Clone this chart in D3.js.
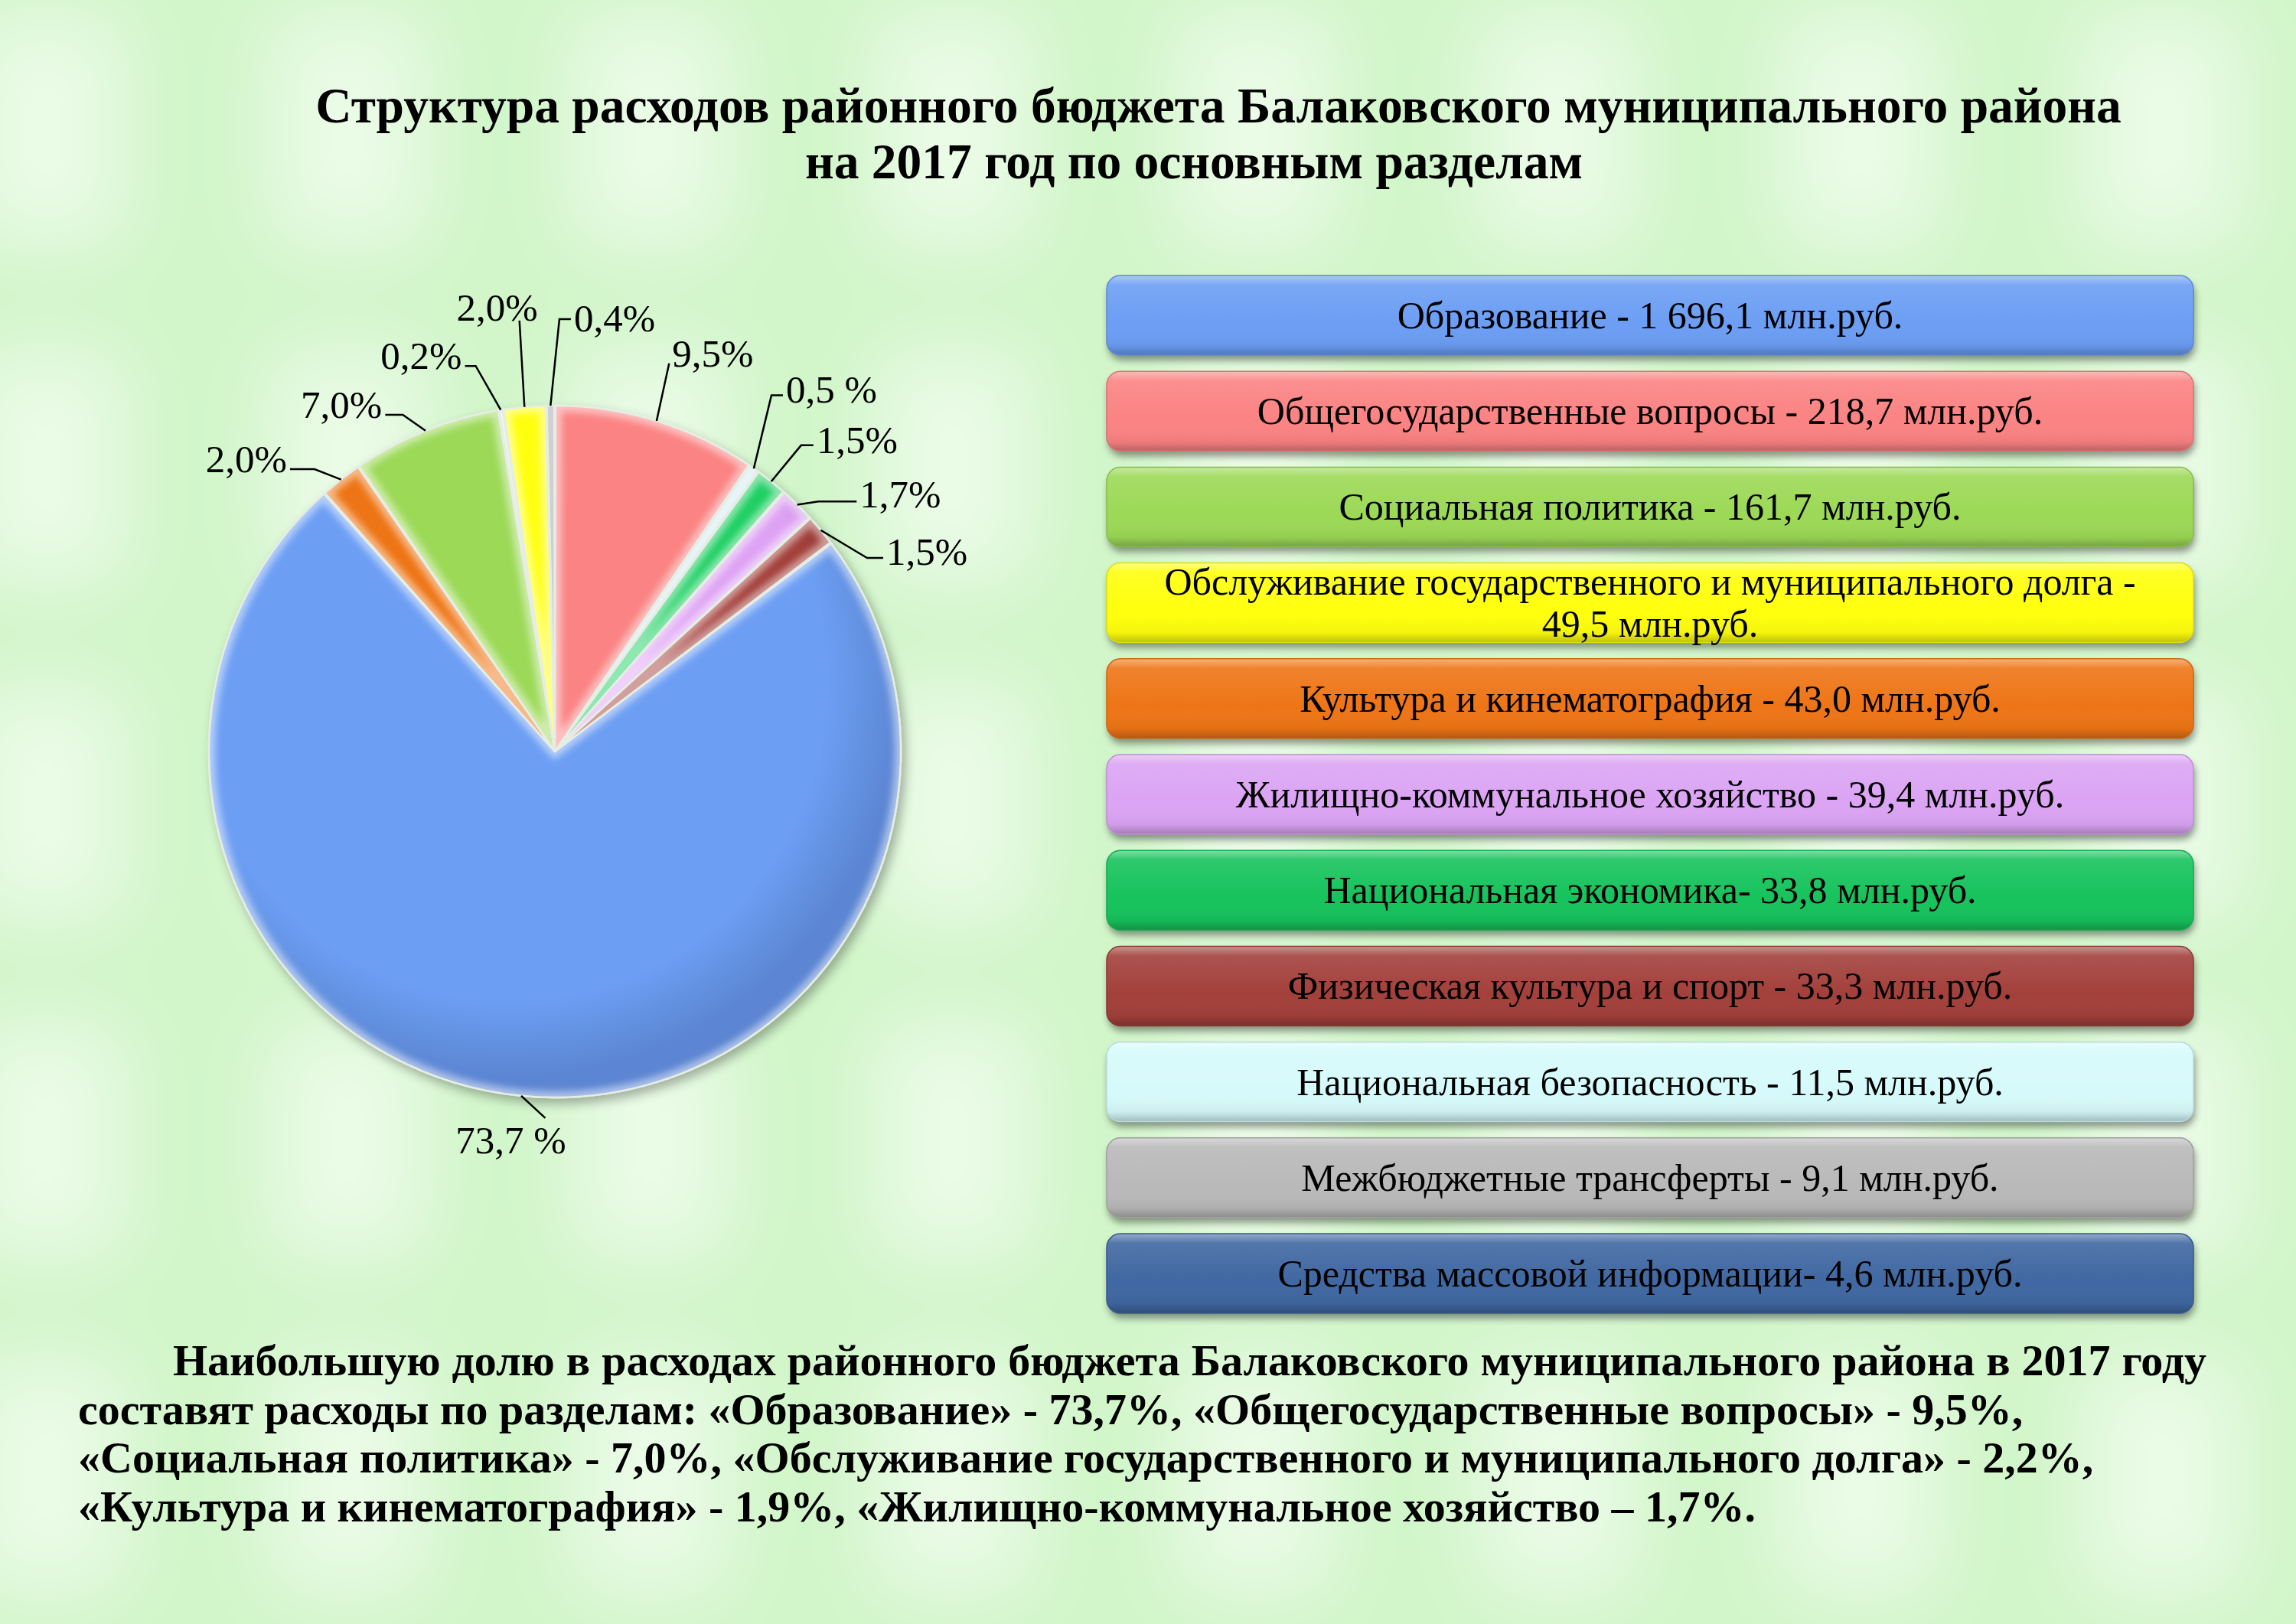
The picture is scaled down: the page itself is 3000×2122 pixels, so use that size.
<!DOCTYPE html>
<html>
<head>
<meta charset="utf-8">
<script src="https://cdnjs.cloudflare.com/ajax/libs/d3/7.8.5/d3.min.js"></script>
<style>
  html, body { margin: 0; padding: 0; background: #d4f7ce; }
  svg { display: block; }
</style>
</head>
<body>
<div id="chart"></div>
<script>
// Разделы бюджета (порядок как в легенде)
const categories = [
    'Образование',
    'Общегосударственные вопросы',
    'Социальная политика',
    'Обслуживание государственного и муниципального долга',
    'Культура и кинематография',
    'Жилищно-коммунальное хозяйство',
    'Национальная экономика',
    'Физическая культура и спорт',
    'Национальная безопасность',
    'Межбюджетные трансферты',
    'Средства массовой информации'
];
// млн.руб.
const amounts = [1696.1, 218.7, 161.7, 49.5, 43.0, 39.4, 33.8, 33.3, 11.5, 9.1, 4.6];
const separators = [' - ', ' - ', ' - ', ' - ', ' - ', ' - ', '- ', ' - ', ' - ', ' - ', '- '];
const boxColors = ['#6c9ef4', '#fb8383', '#9cd957', '#ffff10', '#ee7414', '#dba4f4',
    '#17c35c', '#a33f3a', '#d6fafb', '#b9b9b9', '#3f68a2'];

// Секторы диаграммы по часовой стрелке от 12 часов
const pieCategory = [1, 8, 6, 5, 7, 0, 4, 2, 10, 3, 9];
const pieShares = [9.5, 0.5, 1.5, 1.7, 1.5, 73.7, 2.0, 7.0, 0.2, 2.0, 0.4];
const pieLabels = ['9,5%', '0,5 %', '1,5%', '1,7%', '1,5%', '73,7 %', '2,0%', '7,0%', '0,2%', '2,0%', '0,4%'];
const pieColors = ['#fb8383', '#cfe9f0', '#1ecf62', '#dea2f4', '#a33f3a', '#6c9ef4',
    '#ee7414', '#9cd957', '#eef6ea', '#ffff10', '#a0a0a8'];

const titleLines = [
    'Структура расходов районного бюджета Балаковского муниципального района',
    'на 2017 год по основным разделам'
];
const noteLines = [
    'Наибольшую долю в расходах районного бюджета Балаковского муниципального района в 2017 году',
    'составят расходы по разделам: «Образование» - 73,7%, «Общегосударственные вопросы» - 9,5%,',
    '«Социальная политика» - 7,0%, «Обслуживание государственного и муниципального долга» - 2,2%,',
    '«Культура и кинематография» - 1,9%, «Жилищно-коммунальное хозяйство – 1,7%.'
];

// label leader layout: angle (deg), radius factor, side, tail length, text baseline shift
const labelLayout = [
    { a: 16.4, k: 1.17, side: 'right', tail: 0, dy: 4 },
    { a: 31.3, k: 1.205, side: 'right', tail: 15, dy: 9 },
    { a: 38.8, k: 1.136, side: 'right', tail: 16, dy: 10 },
    { a: 46.5, k: 1.05, side: 'right', tail: 50, dy: 8 },
    { a: 58.2, k: 1.062, side: 'right', tail: 21, dy: 9 },
    { a: 181.5, k: 1.06, side: 'bottom', tail: 0, dy: 46 },
    { a: 319.6, k: 1.072, side: 'left', tail: 32, dy: 4 },
    { a: 335.7, k: 1.068, side: 'left', tail: 23, dy: 4 },
    { a: 348.4, k: 1.138, side: 'left', tail: 14, dy: 4 },
    { a: 355.3, k: 1.25, side: 'top', tail: 0, dy: 0 },
    { a: 0.6, k: 1.25, side: 'right', tail: 15, dy: 16 }
];

const W = 3000, H = 2122;
const ruLocale = d3.formatLocale({ decimal: ',', thousands: ' ', grouping: [3], currency: ['', ''] });
const fmt = ruLocale.format(',.1f');

const svg = d3.select('#chart')
    .append('svg')
    .attr('width', W)
    .attr('height', H);

const defs = svg.append('defs');

// ---------- background ----------
const bgBlur = defs.append('filter').attr('id', 'bgBlur')
    .attr('x', '-50%').attr('y', '-50%').attr('width', '200%').attr('height', '200%');
bgBlur.append('feGaussianBlur').attr('stdDeviation', 50);

svg.append('rect').attr('width', W).attr('height', H).attr('fill', '#d2f6ca');
const bg = svg.append('g').attr('filter', 'url(#bgBlur)');
for (let i = 0; i < 9; i++) {
    for (let j = 0; j < 6; j++) {
        bg.append('rect')
            .attr('x', -40 + i * 395)
            .attr('y', 20 + j * 440)
            .attr('width', 200)
            .attr('height', 300)
            .attr('fill', '#ffffff')
            .attr('opacity', 0.55);
    }
}

// ---------- title ----------
const title = svg.append('g')
    .style('font-family', '"Liberation Serif", "Times New Roman", serif')
    .style('font-weight', 'bold')
    .style('font-size', '65.5px');
title.append('text').attr('x', 1592).attr('y', 160).attr('text-anchor', 'middle').text(titleLines[0]);
title.append('text').attr('x', 1560).attr('y', 233).attr('text-anchor', 'middle').text(titleLines[1]);

// ---------- pie ----------
const cx = 725, cy = 982, r = 452;
const pieData = pieShares.map((s, i) => ({ share: s, label: pieLabels[i], color: pieColors[i], cat: pieCategory[i] }));
const pie = d3.pie().sort(null).value(d => d.share);
const arcs = pie(pieData);
const arc = d3.arc().innerRadius(0).outerRadius(r).padAngle(0.004);

const shadow = defs.append('filter').attr('id', 'pieShadow')
    .attr('x', '-20%').attr('y', '-20%').attr('width', '140%').attr('height', '140%');
shadow.append('feDropShadow').attr('dx', 5).attr('dy', 7).attr('stdDeviation', 7)
    .attr('flood-color', '#000').attr('flood-opacity', 0.3);

const bevelBlur = defs.append('filter').attr('id', 'bevelBlur')
    .attr('x', '-20%').attr('y', '-20%').attr('width', '140%').attr('height', '140%');
bevelBlur.append('feGaussianBlur').attr('stdDeviation', 5);

const shade = defs.append('radialGradient').attr('id', 'pieShade')
    .attr('gradientUnits', 'userSpaceOnUse')
    .attr('cx', -60).attr('cy', -90).attr('r', r * 1.15);
shade.append('stop').attr('offset', '0%').attr('stop-color', '#000').attr('stop-opacity', 0);
shade.append('stop').attr('offset', '80%').attr('stop-color', '#000').attr('stop-opacity', 0);
shade.append('stop').attr('offset', '100%').attr('stop-color', '#002').attr('stop-opacity', 0.16);

const pieG = svg.append('g')
    .attr('transform', 'translate(' + cx + ',' + cy + ')')
    .attr('filter', 'url(#pieShadow)');

arcs.forEach((d, i) => {
    defs.append('clipPath').attr('id', 'sliceClip' + i)
        .append('path').attr('d', arc(d));
});

const slice = pieG.selectAll('.slice')
    .data(arcs)
    .enter().append('g')
    .attr('class', 'slice');

slice.append('path')
    .attr('d', arc)
    .attr('fill', d => d.data.color);

slice.append('path')
    .attr('d', arc)
    .attr('fill', 'url(#pieShade)');

slice.append('g')
    .attr('clip-path', (d, i) => 'url(#sliceClip' + i + ')')
    .append('path')
    .attr('d', arc)
    .attr('fill', 'none')
    .attr('stroke', '#fff')
    .attr('stroke-opacity', 0.5)
    .attr('stroke-width', 16)
    .attr('filter', 'url(#bevelBlur)');

slice.append('path')
    .attr('d', arc)
    .attr('fill', 'none')
    .attr('stroke', '#e6ede4')
    .attr('stroke-width', 2.5);

// ---------- pie labels ----------
const rad = deg => deg * Math.PI / 180;
const polar = (deg, dist) => [cx + dist * Math.sin(rad(deg)), cy - dist * Math.cos(rad(deg))];

const labelG = svg.append('g')
    .style('font-family', '"Liberation Serif", "Times New Roman", serif')
    .style('font-size', '51px');

arcs.forEach((d, i) => {
    const lay = labelLayout[i];
    const mid = (d.startAngle + d.endAngle) / 2 * 180 / Math.PI;
    const p0 = polar(mid, r);
    const p1 = polar(lay.a, r * lay.k);
    const pts = [p0, p1];
    let tx, anchor;
    if (lay.side === 'right') {
        const p2 = [p1[0] + lay.tail, p1[1]];
        pts.push(p2);
        tx = p2[0] + 4; anchor = 'start';
    } else if (lay.side === 'left') {
        const p2 = [p1[0] - lay.tail, p1[1]];
        pts.push(p2);
        tx = p2[0] - 4; anchor = 'end';
    } else if (lay.side === 'top') {
        tx = p1[0] + 24; anchor = 'end';
    } else {
        tx = p1[0] - 45; anchor = 'middle';
    }
    labelG.append('path')
        .attr('d', d3.line()(pts))
        .attr('fill', 'none')
        .attr('stroke', '#000')
        .attr('stroke-width', 2.5);
    labelG.append('text')
        .attr('x', tx)
        .attr('y', p1[1] + lay.dy)
        .attr('text-anchor', anchor)
        .text(d.data.label);
});

// ---------- legend boxes ----------
const y = d3.scaleBand()
    .domain(categories)
    .range([360, 1716])
    .paddingInner(0.17)
    .paddingOuter(0);
const boxX = 1446, boxW = 1420;

const boxShadow = defs.append('filter').attr('id', 'boxShadow')
    .attr('x', '-5%').attr('y', '-30%').attr('width', '110%').attr('height', '170%');
boxShadow.append('feDropShadow').attr('dx', 2).attr('dy', 7).attr('stdDeviation', 5)
    .attr('flood-color', '#000').attr('flood-opacity', 0.4);

const gloss = defs.append('linearGradient').attr('id', 'boxGloss')
    .attr('x1', 0).attr('y1', 0).attr('x2', 0).attr('y2', 1);
gloss.append('stop').attr('offset', '0%').attr('stop-color', '#fff').attr('stop-opacity', 0.45);
gloss.append('stop').attr('offset', '12%').attr('stop-color', '#fff').attr('stop-opacity', 0.1);
gloss.append('stop').attr('offset', '60%').attr('stop-color', '#fff').attr('stop-opacity', 0);
gloss.append('stop').attr('offset', '88%').attr('stop-color', '#000').attr('stop-opacity', 0.05);
gloss.append('stop').attr('offset', '100%').attr('stop-color', '#000').attr('stop-opacity', 0.25);

const legend = svg.append('g')
    .style('font-family', '"Liberation Serif", "Times New Roman", serif')
    .style('font-size', '50px');

const box = legend.selectAll('.box')
    .data(categories)
    .enter().append('g')
    .attr('class', 'box');

box.append('rect')
    .attr('x', boxX)
    .attr('y', d => y(d))
    .attr('width', boxW)
    .attr('height', y.bandwidth())
    .attr('rx', 18)
    .attr('fill', (d, i) => boxColors[i])
    .attr('filter', 'url(#boxShadow)');

box.append('rect')
    .attr('x', boxX)
    .attr('y', d => y(d))
    .attr('width', boxW)
    .attr('height', y.bandwidth())
    .attr('rx', 18)
    .attr('fill', 'url(#boxGloss)')
    .attr('stroke', (d, i) => d3.color(boxColors[i]).darker(0.4))
    .attr('stroke-width', 1.5);

box.each(function (d, i) {
    const g = d3.select(this);
    const full = d + separators[i] + fmt(amounts[i]) + ' млн.руб.';
    const maxW = boxW - 90;
    const words = full.split(' ');
    const lines = [];
    let cur = '';
    const probe = g.append('text');
    words.forEach(w => {
        const test = cur ? cur + ' ' + w : w;
        probe.text(test);
        if (probe.node().getComputedTextLength() > maxW && cur) {
            lines.push(cur);
            cur = w;
        } else {
            cur = test;
        }
    });
    lines.push(cur);
    probe.remove();
    const lh = 55;
    const yc = y(d) + y.bandwidth() / 2;
    lines.forEach((ln, k) => {
        g.append('text')
            .attr('x', boxX + boxW / 2)
            .attr('y', yc + (k - (lines.length - 1) / 2) * lh + 17)
            .attr('text-anchor', 'middle')
            .text(ln);
    });
});

// ---------- note ----------
const note = svg.append('g')
    .style('font-family', '"Liberation Serif", "Times New Roman", serif')
    .style('font-weight', 'bold')
    .style('font-size', '58px');
const noteY = [1797, 1861, 1924, 1988];
noteLines.forEach((ln, k) => {
    const t = note.append('text')
        .attr('x', k === 0 ? 226 : 102)
        .attr('y', noteY[k])
        .text(ln);
    if (k === 0) {
        const natural = t.node().getComputedTextLength();
        const spaces = ln.split(' ').length - 1;
        const extra = (2883 - 226 - natural) / spaces;
        if (extra > 0) t.style('word-spacing', extra + 'px');
    }
});
</script>
</body>
</html>
